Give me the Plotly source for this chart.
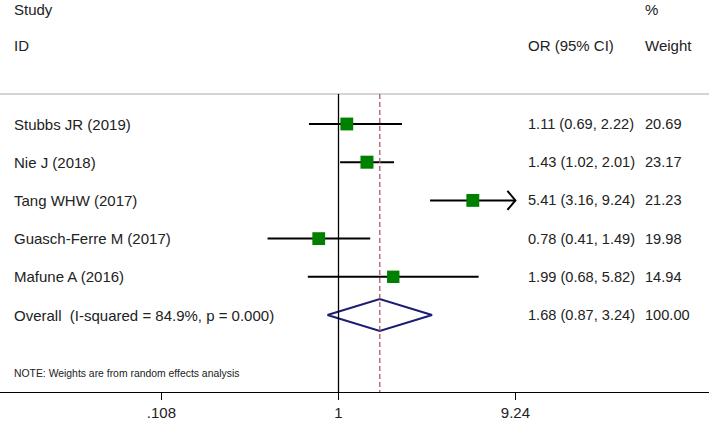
import math
import plotly.graph_objects as go

# ---- data ----
studies = ["Stubbs JR (2019)", "Nie J (2018)", "Tang WHW (2017)",
           "Guasch-Ferre M (2017)", "Mafune A (2016)"]
or_vals = [1.11, 1.43, 5.41, 0.78, 1.99]
ci_low = [0.69, 1.02, 3.16, 0.41, 0.68]
ci_high = [2.22, 2.01, 9.24, 1.49, 5.82]
weights = [20.69, 23.17, 21.23, 19.98, 14.94]

overall_label = "Overall\u00a0\u00a0(I-squared = 84.9%, p = 0.000)"
overall_or = 1.68
overall_low = 0.87
overall_high = 3.24
overall_weight = 100.00

tick_vals = [0.108, 1, 9.24]
tick_text = [".108", "1", "9.24"]
note_text = "NOTE: Weights are from random effects analysis"

# ---- geometry (pixel layout helpers) ----
W, H = 709, 422
AX_PX = 392            # pixel y of x-axis line
ROW0_PX, ROW_H = 124, 38.2
PX_PER_DEC = 183.2
NULL_PX = 338.5

def r_of(px):
    return 1 + (px - ROW0_PX) / ROW_H

x_lo = -NULL_PX / PX_PER_DEC
x_hi = (W - NULL_PX) / PX_PER_DEC
xmin_clip, xmax_clip = min(tick_vals), max(tick_vals)

FONT = "Liberation Sans, Arial, sans-serif"
TXT = "#222222"
FS = 15

fig = go.Figure()

rows = list(range(1, len(studies) + 1))
# CI lines
for i, r in enumerate(rows):
    lo = max(ci_low[i], xmin_clip)
    hi = min(ci_high[i], xmax_clip)
    fig.add_trace(go.Scatter(x=[lo, hi], y=[r, r], mode="lines",
                             line=dict(color="black", width=2),
                             hoverinfo="skip", showlegend=False))
    if ci_high[i] >= xmax_clip:
        back = hi / 10 ** (8 / PX_PER_DEC)
        fig.add_trace(go.Scatter(x=[back, hi, back], y=[r - 0.25, r, r + 0.25],
                                 mode="lines", line=dict(color="black", width=2),
                                 hoverinfo="skip", showlegend=False))

# squares sized by weight
maxw = max(weights)
sizes = [10 + 3 * math.sqrt(w / maxw) for w in weights]
fig.add_trace(go.Scatter(x=or_vals, y=rows, mode="markers",
                         marker=dict(symbol="square", size=sizes, color="#008000",
                                     opacity=1, line=dict(width=0)),
                         hoverinfo="skip", showlegend=False))

# overall diamond
ro = len(studies) + 1
dh = 16 / ROW_H
fig.add_trace(go.Scatter(
    x=[overall_low, overall_or, overall_high, overall_or, overall_low],
    y=[ro, ro - dh, ro, ro + dh, ro], mode="lines",
    line=dict(color="#1c1c72", width=2), hoverinfo="skip", showlegend=False))

shapes = []
# gray header separator
gy = r_of(94)
shapes.append(dict(type="line", xref="paper", yref="y", x0=0, x1=1, y0=gy, y1=gy,
                   line=dict(color="#d4d4d4", width=2)))
# null line (shape x in data units on log axis)
shapes.append(dict(type="line", xref="x", yref="y", x0=1, x1=1, y0=gy, y1=r_of(AX_PX),
                   line=dict(color="black", width=1.3)))
# overall dashed line
shapes.append(dict(type="line", xref="x", yref="y", x0=overall_or, x1=overall_or,
                   y0=gy, y1=r_of(AX_PX),
                   line=dict(color="#b05a66", width=1.3, dash="5px,3px")))

ann = []
def txt(x, y, s, size=FS, xref="paper"):
    ann.append(dict(x=x, y=y, xref=xref, yref="y", text=s, showarrow=False,
                    xanchor="left", yanchor="middle",
                    font=dict(family=FONT, size=size, color=TXT)))

LX = 12 / W
ESX = 526 / W
WX = 643 / W
txt(LX, r_of(9), "Study")
txt(LX, r_of(45), "ID")
txt(ESX, r_of(45), "OR (95% CI)")
txt(WX, r_of(9), "%")
txt(WX, r_of(45), "Weight")

for i, r in enumerate(rows):
    txt(LX, r, studies[i])
    txt(ESX, r, f"{or_vals[i]:.2f} ({ci_low[i]:.2f}, {ci_high[i]:.2f})", size=14.6)
    txt(WX, r, f"{weights[i]:.2f}", size=14.6)
txt(LX, ro, overall_label)
txt(ESX, ro, f"{overall_or:.2f} ({overall_low:.2f}, {overall_high:.2f})", size=14.6)
txt(WX, ro, f"{overall_weight:.2f}", size=14.6)
txt(LX, r_of(373), note_text, size=10.4)

fig.update_layout(
    width=W, height=H,
    margin=dict(l=0, r=0, t=0, b=H - AX_PX),
    paper_bgcolor="white", plot_bgcolor="white",
    shapes=shapes, annotations=ann,
    xaxis=dict(type="log", range=[x_lo, x_hi], tickvals=tick_vals, ticktext=tick_text,
               showgrid=False, zeroline=False, showline=True, linecolor="black",
               linewidth=1.3, ticks="outside", ticklen=7, tickwidth=1.3,
               tickcolor="black", tickfont=dict(family=FONT, size=FS, color=TXT),
               fixedrange=True),
    yaxis=dict(range=[r_of(AX_PX), r_of(0)], visible=False, showgrid=False,
               zeroline=False, fixedrange=True),
)

fig.write_html("out.html", config={"displayModeBar": False},
               post_script="document.body.style.margin='0';")
